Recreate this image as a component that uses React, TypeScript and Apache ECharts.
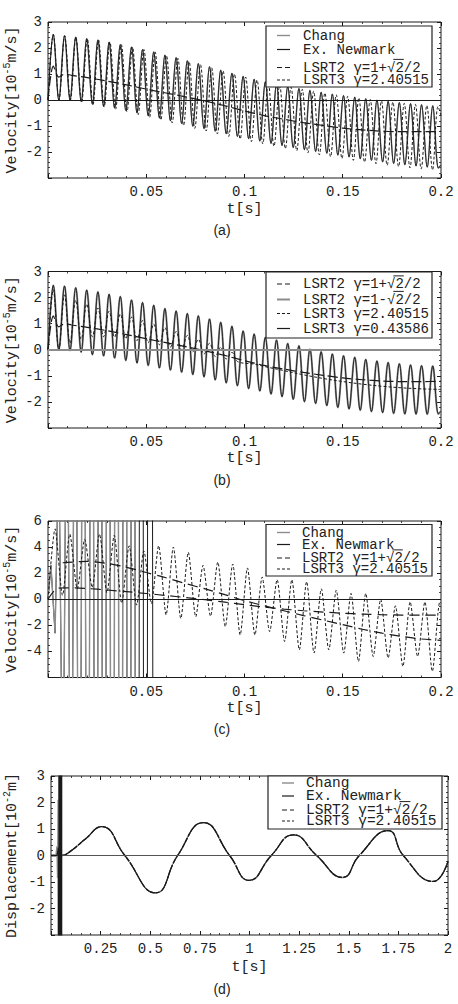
import React, { useEffect, useRef } from "react";
import * as echarts from "echarts";

const MONO = "'Liberation Mono', 'DejaVu Sans Mono', monospace";
const SANS = "'Liberation Sans', Arial, sans-serif";

// ---------- panel (a) / (b): timing of the fast oscillation extrema ----------
const solidPeakT = [
  0.0027, 0.0084, 0.0141, 0.0197, 0.0254, 0.0311, 0.0368, 0.0425, 0.0481, 0.0538,
  0.0595, 0.0652, 0.0709, 0.0765, 0.0822, 0.0879, 0.0936, 0.0993, 0.1049, 0.1106,
  0.1163, 0.122, 0.1277, 0.1333, 0.139, 0.1447, 0.1504, 0.1561, 0.1617, 0.1674,
  0.1731, 0.1788, 0.1845, 0.1901, 0.1958,
];
const solidTroughT = [
  0.0055, 0.0112, 0.0169, 0.0226, 0.0283, 0.0339, 0.0396, 0.0453, 0.051, 0.0567,
  0.0623, 0.068, 0.0737, 0.0794, 0.0851, 0.0907, 0.0964, 0.1021, 0.1078, 0.1135,
  0.1191, 0.1248, 0.1305, 0.1362, 0.1419, 0.1475, 0.1532, 0.1589, 0.1646, 0.1703,
  0.1759, 0.1816, 0.1873, 0.193, 0.1987,
];

// (a) Chang / Ex. Newmark velocity extrema
const aSolidPeak = [
  2.52, 2.47, 2.42, 2.36, 2.31, 2.23, 2.13, 2.04, 1.94, 1.85, 1.73, 1.63, 1.51, 1.4,
  1.28, 1.15, 1.03, 0.91, 0.8, 0.7, 0.61, 0.52, 0.44, 0.37, 0.3, 0.23, 0.17, 0.11,
  0.05, 0.0, -0.05, -0.1, -0.14, -0.18, -0.22,
];
const aSolidTrough = [
  0.0, 0.0, -0.06, -0.16, -0.24, -0.31, -0.4, -0.5, -0.61, -0.69, -0.8, -0.9, -1.01,
  -1.1, -1.2, -1.3, -1.4, -1.49, -1.58, -1.67, -1.75, -1.83, -1.91, -1.98, -2.05,
  -2.12, -2.19, -2.26, -2.32, -2.38, -2.44, -2.49, -2.54, -2.58, -2.62,
];
const aSolidEnd = -2.5;

// (a) LSRT3 γ=2.40515 velocity extrema (slightly longer period)
const aDotPeakT = [
  0.0027, 0.0085, 0.0142, 0.02, 0.0257, 0.0315, 0.0373, 0.043, 0.0488, 0.0545,
  0.0603, 0.0661, 0.0718, 0.0776, 0.0833, 0.0891, 0.0949, 0.1006, 0.1064, 0.1121,
  0.1179, 0.1237, 0.1294, 0.1352, 0.1409, 0.1467, 0.1525, 0.1582, 0.164, 0.1697,
  0.1755, 0.1813, 0.187, 0.1928, 0.1985,
];
const aDotTroughT = [
  0.0056, 0.0114, 0.0171, 0.0229, 0.0286, 0.0344, 0.0402, 0.0459, 0.0517, 0.0574,
  0.0632, 0.069, 0.0747, 0.0805, 0.0862, 0.092, 0.0978, 0.1035, 0.1093, 0.115,
  0.1208, 0.1266, 0.1323, 0.1381, 0.1438, 0.1496, 0.1554, 0.1611, 0.1669, 0.1726,
  0.1784, 0.1842, 0.1899, 0.1957,
];
const aDotPeak = [
  2.52, 2.47, 2.42, 2.36, 2.31, 2.23, 2.13, 2.04, 1.94, 1.85, 1.71, 1.6, 1.48, 1.36,
  1.24, 1.12, 1.0, 0.88, 0.77, 0.67, 0.58, 0.49, 0.41, 0.34, 0.27, 0.2, 0.14, 0.08,
  0.02, -0.03, -0.08, -0.13, -0.17, -0.21, -0.25,
];
const aDotTrough = [
  0.0, 0.0, -0.08, -0.18, -0.27, -0.35, -0.45, -0.56, -0.67, -0.77, -0.88, -0.98,
  -1.09, -1.19, -1.3, -1.4, -1.5, -1.6, -1.69, -1.78, -1.87, -1.95, -2.03, -2.11,
  -2.18, -2.25, -2.32, -2.39, -2.45, -2.51, -2.56, -2.61, -2.65, -2.69,
];
const aDotEnd = -0.6;

// LSRT2 γ=1+√2/2 velocity (panels a and b)
const lsrt2Velocity = [
  [0, 0], [0.0027, 1.3], [0.0055, 0.88], [0.0085, 1.0], [0.012, 0.95], [0.02, 0.86],
  [0.03, 0.73], [0.04, 0.58], [0.05, 0.42], [0.06, 0.27], [0.07, 0.12], [0.08, -0.04],
  [0.09, -0.22], [0.1, -0.42], [0.11, -0.6], [0.12, -0.74], [0.13, -0.87], [0.14, -0.98],
  [0.15, -1.08], [0.16, -1.15], [0.17, -1.2], [0.18, -1.22], [0.19, -1.22], [0.2, -1.21],
];

// (b) LSRT2 γ=1-√2/2 and LSRT3 γ=0.43586 velocity extrema
const bSolidPeak = [
  2.47, 2.44, 2.38, 2.29, 2.22, 2.13, 2.04, 1.91, 1.81, 1.71, 1.58, 1.49, 1.39, 1.3,
  1.18, 1.05, 0.9, 0.72, 0.6, 0.47, 0.37, 0.24, 0.15, 0.02, -0.08, -0.16, -0.23, -0.29,
  -0.37, -0.43, -0.49, -0.54, -0.58, -0.61, -0.62,
];
const bSolidTrough = [
  0.0, -0.03, -0.09, -0.19, -0.24, -0.32, -0.41, -0.51, -0.6, -0.7, -0.78, -0.86,
  -0.95, -1.04, -1.16, -1.27, -1.38, -1.49, -1.58, -1.7, -1.8, -1.9, -1.99, -2.06,
  -2.14, -2.21, -2.27, -2.32, -2.37, -2.41, -2.44, -2.46, -2.47, -2.47, -2.46,
];
const bSolidEnd = -2.35;

// (b) LSRT3 γ=2.40515: decaying oscillation, then a smooth tail
const bDotPeak = [2.3, 2.1, 1.9, 1.75, 1.6, 1.48, 1.37, 1.25, 1.12, 0.98, 0.85, 0.7, 0.55, 0.4, 0.25, 0.1, -0.1];
const bDotTrough = [0.0, 0.25, 0.4, 0.5, 0.5, 0.48, 0.42, 0.35, 0.27, 0.19, 0.1, 0.0, -0.08, -0.17, -0.26, -0.35, -0.45];
const bDotTail = [
  [0.105, -0.55], [0.11, -0.64], [0.12, -0.8], [0.13, -0.96], [0.14, -1.1], [0.15, -1.22],
  [0.16, -1.32], [0.17, -1.4], [0.18, -1.46], [0.19, -1.5], [0.2, -1.52],
];

// (c) unstable Chang / Ex. Newmark responses (values leave the frame)
const cChang = [
  [0, 0], [0.0015, 2.6], [0.0036, -2.6], [0.0055, 12], [0.0076, -18], [0.0097, 24],
  [0.0118, -30], [0.0139, 36], [0.016, -42], [0.0181, 48], [0.0202, -54], [0.0223, 60],
  [0.0244, -66], [0.0265, 72], [0.0286, -78], [0.0307, 84], [0.0328, -90], [0.0349, 96],
  [0.037, -102], [0.0391, 108], [0.0412, -114], [0.0433, 120], [0.0454, -126],
];
const cNewmark = [
  [0, 0], [0.0015, 2.6], [0.0036, -2.6], [0.0055, 12], [0.0076, -18], [0.0097, 24],
  [0.0118, -30], [0.0139, 36], [0.016, -42], [0.0181, 48], [0.0202, -54], [0.0223, 60],
  [0.0244, -66], [0.0265, 72], [0.0286, -78], [0.0307, 84], [0.0328, -90], [0.0349, 96],
  [0.037, -102], [0.0391, 108], [0.0412, -114], [0.0433, 120], [0.0454, -126],
  [0.0475, 132], [0.0496, -138], [0.0517, 144], [0.0549, -150],
];
const cLsrt2 = [
  [0, 0], [0.005, 0.85], [0.01, 0.88], [0.02, 0.82], [0.03, 0.71], [0.04, 0.58],
  [0.05, 0.44], [0.06, 0.29], [0.07, 0.13], [0.08, -0.04], [0.09, -0.22], [0.1, -0.42],
  [0.11, -0.6], [0.12, -0.75], [0.13, -0.88], [0.14, -0.98], [0.15, -1.07], [0.16, -1.14],
  [0.17, -1.19], [0.18, -1.21], [0.19, -1.22], [0.2, -1.22],
];
const cUpper = [
  [0.0075, 2.8], [0.02, 2.9], [0.03, 2.75], [0.04, 2.45], [0.05, 2.05], [0.06, 1.65],
  [0.07, 1.2], [0.08, 0.8], [0.09, 0.35], [0.1, -0.1], [0.11, -0.5], [0.12, -0.88],
  [0.13, -1.25], [0.14, -1.6], [0.15, -1.95], [0.16, -2.3], [0.17, -2.6], [0.18, -2.85],
  [0.19, -3.05], [0.2, -3.15],
];
const cDotPeakT = [
  0.0036, 0.0111, 0.0187, 0.0262, 0.0337, 0.0413, 0.0488, 0.0563, 0.0638, 0.0714,
  0.0789, 0.0864, 0.094, 0.1015, 0.109, 0.1166, 0.1241, 0.1316, 0.1391, 0.1467,
  0.1542, 0.1617, 0.1693, 0.1768, 0.1843, 0.1918, 0.1994,
];
const cDotTroughT = [
  0.0074, 0.0149, 0.0225, 0.03, 0.0375, 0.0451, 0.0526, 0.0601, 0.0676, 0.0752,
  0.0827, 0.0902, 0.0978, 0.1053, 0.1128, 0.1204, 0.1279, 0.1354, 0.1429, 0.1505,
  0.158, 0.1655, 0.1731, 0.1806, 0.1881, 0.1956,
];
const cDotPeak = [
  5.4, 5.0, 4.6, 5.0, 4.9, 4.1, 3.7, 4.1, 4.0, 3.6, 2.6, 2.85, 2.7, 2.4, 1.7, 1.5,
  1.5, 1.35, 0.8, 0.7, 0.45, 0.45, 0.0, -0.5, -0.2, -0.2, -0.2,
];
const cDotTrough = [
  0.3, 0.8, 0.9, 0.5, -0.3, -0.45, -0.33, -1.2, -1.47, -1.34, -1.3, -2.1, -2.74,
  -2.74, -2.48, -3.24, -3.88, -4.13, -3.88, -4.13, -4.77, -4.39, -4.5, -5.15, -4.39, -5.53,
];
const cDotEnd = -0.3;

// (d) displacement
const dDisp = [
  [0, 0], [0.05, 0], [0.085, 0.09], [0.17, 0.6], [0.255, 1.09], [0.372, 0], [0.527, -1.41],
  [0.638, 0], [0.768, 1.24], [0.9, 0], [0.998, -0.94], [1.11, 0], [1.221, 0.78], [1.338, 0],
  [1.469, -0.83], [1.553, 0], [1.699, 0.94], [1.775, 0], [1.926, -0.98], [2.0, -0.22],
];
const dChang = [[0, 0], [0.025, 0], [0.03, 0.35], [0.033, -0.85], [0.036, 2.1], [0.039, -30], [0.042, 40]];
const dNewmark = [
  [0, 0], [0.03, 0], [0.0375, 0.3], [0.0395, -30], [0.0412, 36], [0.0429, -42], [0.0446, 48],
  [0.0463, -54], [0.048, 60], [0.0497, -66], [0.0514, 72], [0.0531, -78], [0.0548, 84],
];

// legend texts
const LEGEND_STD = ["Chang", "Ex. Newmark", "LSRT2 γ=1+√2/2", "LSRT3 γ=2.40515"];
const LEGEND_B = ["LSRT2 γ=1+√2/2", "LSRT2 γ=1-√2/2", "LSRT3 γ=2.40515", "LSRT3 γ=0.43586"];

function weave(
  head: number[][],
  peakT: number[], peakV: number[],
  troughT: number[], troughV: number[],
  tail: number[][]
) {
  const out: number[][] = [...head];
  for (let k = 0; k < peakT.length; k++) {
    out.push([peakT[k], peakV[k]]);
    if (k < troughT.length && k < troughV.length) out.push([troughT[k], troughV[k]]);
  }
  return out.concat(tail);
}

const aSolid = weave([[0, 0]], solidPeakT, aSolidPeak, solidTroughT, aSolidTrough, [[0.2, aSolidEnd]]);
const aDot = weave([[0, 0]], aDotPeakT, aDotPeak, aDotTroughT, aDotTrough, [[0.2, aDotEnd]]);
const bSolid = weave([[0, 0]], solidPeakT, bSolidPeak, solidTroughT, bSolidTrough, [[0.2, bSolidEnd]]);
const bDot = weave([[0, 0]], solidPeakT.slice(0, bDotPeak.length), bDotPeak, solidTroughT, bDotTrough, bDotTail);
const cDot = weave([[0, 0]], cDotPeakT, cDotPeak, cDotTroughT, cDotTrough, [[0.2, cDotEnd]]);

const fmt = (v: number) => String(parseFloat(v.toFixed(4)));

const GRIDS = [
  { left: 48, top: 22, width: 393, height: 156 },
  { left: 48, top: 271.5, width: 393, height: 156.5 },
  { left: 48, top: 521, width: 393, height: 156.5 },
  { left: 51, top: 776, width: 397, height: 159 },
];
const RANGES = [
  { xMax: 0.2, xInt: 0.05, yMin: -3, yMax: 3, yInt: 1, yMinor: 5 },
  { xMax: 0.2, xInt: 0.05, yMin: -3, yMax: 3, yInt: 1, yMinor: 5 },
  { xMax: 0.2, xInt: 0.05, yMin: -6, yMax: 6, yInt: 2, yMinor: 4 },
  { xMax: 2, xInt: 0.25, yMin: -3, yMax: 3, yInt: 1, yMinor: 5 },
];

const INK = "#1a1a1a";
const GREY = "#8c8c8c";

function tickCfg() {
  return {
    axisTick: { show: true, inside: true, length: 4, lineStyle: { color: INK, width: 1 } },
    minorTick: { show: true, length: 2, lineStyle: { color: INK, width: 0.8 } },
  };
}

function buildAxes() {
  const xAxis: any[] = [];
  const yAxis: any[] = [];
  RANGES.forEach((r, i) => {
    const t = tickCfg();
    const xBase = {
      gridIndex: i, type: "value", min: 0, max: r.xMax, interval: r.xInt,
      axisLine: { show: false, onZero: false }, splitLine: { show: false },
      axisTick: t.axisTick, minorTick: { ...t.minorTick, splitNumber: 5 },
    };
    xAxis.push({
      ...xBase, position: "bottom",
      axisLabel: {
        show: true, margin: 7, color: "#222", fontFamily: MONO, fontSize: 14,
        formatter: (v: number) => (Math.abs(v) < 1e-9 ? "" : fmt(v)),
      },
    });
    xAxis.push({ ...xBase, position: "top", axisLabel: { show: false } });
    const yBase = {
      gridIndex: i, type: "value", min: r.yMin, max: r.yMax, interval: r.yInt,
      axisLine: { show: false, onZero: false }, splitLine: { show: false },
      axisTick: t.axisTick, minorTick: { ...t.minorTick, splitNumber: r.yMinor },
    };
    yAxis.push({
      ...yBase, position: "left",
      axisLabel: {
        show: true, margin: 6, color: "#222", fontFamily: MONO, fontSize: 14,
        formatter: (v: number) => (v === r.yMin ? "" : fmt(v)),
      },
    });
    yAxis.push({ ...yBase, position: "right", axisLabel: { show: false } });
  });
  return { xAxis, yAxis };
}

function ser(
  name: string, gi: number, data: number[][], color: string, width: number,
  type: any, smooth: number | boolean, z = 2, zero?: { color: string; width: number }
) {
  const s: any = {
    type: "line", name, xAxisIndex: 2 * gi, yAxisIndex: 2 * gi, data,
    showSymbol: false, symbol: "none", smooth, silent: true, z, clip: true,
    lineStyle: { color, width, type, cap: "butt" },
  };
  if (zero) {
    s.markLine = {
      silent: true, symbol: "none", label: { show: false }, animation: false,
      lineStyle: { color: zero.color, width: zero.width, type: "solid" },
      data: [{ yAxis: 0 }],
    };
  }
  return s;
}

type Row = { label: string; y: number; stroke: string; width: number; dash?: number[] };

function legendEls(
  box: { x: number; y: number; w: number; h: number },
  rows: Row[], sx0: number, sx1: number, tx: number, fs: number
) {
  const els: any[] = [
    {
      type: "rect", z: 100,
      shape: { x: box.x, y: box.y, width: box.w, height: box.h },
      style: { fill: "#fff", stroke: "#222", lineWidth: 1.2 },
    },
  ];
  const cw = fs * 0.6;
  rows.forEach((r) => {
    els.push({
      type: "line", z: 101,
      shape: { x1: sx0, y1: r.y, x2: sx1, y2: r.y },
      style: { stroke: r.stroke, lineWidth: r.width, lineDash: r.dash || null },
    });
    els.push({
      type: "text", z: 101, x: tx, y: r.y,
      style: { text: r.label, fontSize: fs, fontFamily: MONO, fill: "#222", align: "left", verticalAlign: "middle" },
    });
    const k = r.label.indexOf("√");
    if (k >= 0) {
      const oy = r.y - fs * 0.58;
      els.push({
        type: "line", z: 101,
        shape: { x1: tx + (k + 0.75) * cw, y1: oy, x2: tx + (k + 2) * cw, y2: oy },
        style: { stroke: "#222", lineWidth: 1 },
      });
    }
  });
  return els;
}

function yTitle(x: number, y: number, main: string, sup: string, rest: string) {
  return {
    type: "text", x, y, rotation: Math.PI / 2, z: 50,
    style: {
      text: `{n|${main}}{s|${sup}}{n|${rest}}`,
      align: "center", verticalAlign: "middle",
      rich: {
        n: { fontSize: 15, fontFamily: MONO, fill: "#222", lineHeight: 20, verticalAlign: "middle" },
        s: { fontSize: 10, fontFamily: MONO, fill: "#222", verticalAlign: "top" },
      },
    },
  };
}

function plainText(x: number, y: number, text: string, font: string, size: number) {
  return {
    type: "text", x, y, z: 50,
    style: { text, fontSize: size, fontFamily: font, fill: "#222", align: "center", verticalAlign: "middle" },
  };
}

function buildOption() {
  const { xAxis, yAxis } = buildAxes();
  const grid = GRIDS.map((g) => ({
    ...g, show: true, borderColor: INK, borderWidth: 1, backgroundColor: "transparent", containLabel: false,
  }));

  const series: any[] = [
    // (a)
    ser(LEGEND_STD[0], 0, aSolid, GREY, 1.6, "solid", 0.36, 2, { color: INK, width: 1 }),
    ser(LEGEND_STD[1], 0, aSolid, INK, 0.9, "solid", 0.36, 3),
    ser(LEGEND_STD[2], 0, lsrt2Velocity, INK, 1.2, [10, 4], 0.3, 4),
    ser(LEGEND_STD[3], 0, aDot, INK, 1, [3, 2], 0.36, 4),
    // (b)
    ser(LEGEND_B[1], 1, bSolid, GREY, 2, "solid", 0.36, 2, { color: GREY, width: 2 }),
    ser(LEGEND_B[3], 1, bSolid, INK, 0.9, "solid", 0.36, 3),
    ser(LEGEND_B[0], 1, lsrt2Velocity, INK, 1.2, [10, 4], 0.3, 4),
    ser(LEGEND_B[2], 1, bDot, INK, 1, [3, 2], 0.36, 4),
    // (c)
    ser(LEGEND_STD[1], 2, cNewmark, INK, 1, "solid", false, 2, { color: INK, width: 1 }),
    ser(LEGEND_STD[0], 2, cChang, GREY, 1.4, "solid", false, 3),
    ser(LEGEND_STD[2], 2, cLsrt2, INK, 1.2, [10, 6], 0.3, 4),
    ser(LEGEND_STD[2] + " ", 2, cUpper, INK, 1.2, [10, 6], 0.3, 4),
    ser(LEGEND_STD[3], 2, cDot, INK, 1, [3, 2], 0.25, 4),
    // (d)
    ser(LEGEND_STD[2], 3, dDisp, INK, 1.3, [14, 1.5], 0.5, 3, { color: "#555", width: 1.2 }),
    ser(LEGEND_STD[3], 3, dDisp, INK, 1.3, [5, 1], 0.5, 3),
    ser(LEGEND_STD[0], 3, dChang, GREY, 1.4, "solid", false, 4),
    ser(LEGEND_STD[1], 3, dNewmark, INK, 1.2, "solid", false, 5),
  ];

  const stdStyles = [
    { stroke: GREY, width: 1.4 },
    { stroke: INK, width: 1.2 },
    { stroke: INK, width: 1.2, dash: [5, 3] },
    { stroke: INK, width: 1, dash: [3, 2] },
  ];
  const bStyles = [
    { stroke: INK, width: 1.2, dash: [5, 3] },
    { stroke: GREY, width: 2 },
    { stroke: INK, width: 1, dash: [3, 2] },
    { stroke: INK, width: 1.2 },
  ];
  const rowsOf = (labels: string[], styles: any[], ys: number[]): Row[] =>
    labels.map((l, i) => ({ label: l, y: ys[i], ...styles[i] }));

  const graphic: any[] = [
    ...legendEls({ x: 266, y: 26, w: 166, h: 61 }, rowsOf(LEGEND_STD, stdStyles, [35.5, 49.5, 67.5, 80]), 277, 290, 303, 14),
    ...legendEls({ x: 266, y: 272, w: 166, h: 66 }, rowsOf(LEGEND_B, bStyles, [284, 299.5, 313.5, 328.5]), 277, 290, 303, 14),
    ...legendEls({ x: 266, y: 524.5, w: 166, h: 51.5 }, rowsOf(LEGEND_STD, stdStyles, [532.5, 544.5, 558, 569]), 277, 290, 302, 14),
    ...legendEls({ x: 268, y: 776, w: 174, h: 53 }, rowsOf(LEGEND_STD, stdStyles, [783, 796, 810, 821]), 282, 294, 306, 14.5),
    yTitle(12, 100, "Velocity[10", "-5", "m/s]"),
    yTitle(12, 349.75, "Velocity[10", "-5", "m/s]"),
    yTitle(12, 599.25, "Velocity[10", "-5", "m/s]"),
    yTitle(12, 855.5, "Displacement[10", "-2", "m]"),
    plainText(244.5, 209.5, "t[s]", MONO, 15),
    plainText(244.5, 458.5, "t[s]", MONO, 15),
    plainText(244.5, 708.5, "t[s]", MONO, 15),
    plainText(249.5, 967.5, "t[s]", MONO, 15),
    plainText(222, 230, "(a)", SANS, 14),
    plainText(222, 479.5, "(b)", SANS, 14),
    plainText(222, 729, "(c)", SANS, 14),
    plainText(222, 988.5, "(d)", SANS, 14),
  ];

  return {
    animation: false,
    backgroundColor: "#fff",
    grid,
    xAxis,
    yAxis,
    series,
    graphic: { elements: graphic },
  };
}

export default function App() {
  const ref = useRef<HTMLDivElement>(null);
  useEffect(() => {
    if (!ref.current) return;
    const chart = echarts.init(ref.current, undefined, { renderer: "svg" });
    chart.setOption(buildOption() as any);
    return () => chart.dispose();
  }, []);
  return (
    <div
      ref={ref}
      style={{ position: "absolute", left: 0, top: 0, width: 458, height: 1004, background: "#fff" }}
    />
  );
}
